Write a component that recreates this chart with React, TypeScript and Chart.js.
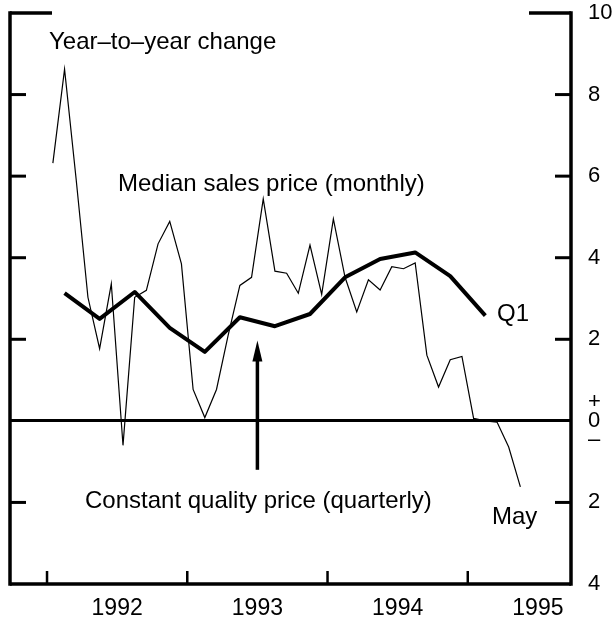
import React, { useEffect, useRef } from 'react';
import { Chart, registerables } from 'chart.js';

Chart.register(...registerables);

// ---- data ----
const firstYear = 1992;
// Monthly year-to-year change in median sales price, Jan 1992 .. May 1995
const monthlyChange = [
  6.32, 8.62, 5.9, 3.03, 1.77, 3.36, -0.6, 3.03, 3.2, 4.34, 4.89, 3.85,
  0.77, 0.08, 0.77, 2.1, 3.32, 3.52, 5.44, 3.67, 3.62, 3.13, 4.31, 3.1,
  4.95, 3.52, 2.67, 3.46, 3.21, 3.78, 3.73, 3.87, 1.61, 0.83, 1.5, 1.58,
  0.06, 0.0, -0.03, -0.64, -1.62,
];
// Quarterly constant quality price change, 1992Q1 .. 1995Q1
const quarterlyChange = [3.13, 2.5, 3.16, 2.28, 1.69, 2.54, 2.32, 2.62, 3.52, 3.97, 4.13, 3.55, 2.58];
const yearLabels = ['1992', '1993', '1994', '1995'];
const yTickValues = [-4, -2, 0, 2, 4, 6, 8, 10];
const innerTickValues = [8, 6, 4, 2, -2];
const xRange = [1991.736, 1995.736];
const yRange = [-4, 10];
const arrowX = 1993.5;
const arrowFrom = -1.2;
const arrowTo = 1.97;

const FONT = "'Liberation Sans', Arial, Helvetica, sans-serif";

const monthlyPoints = monthlyChange.map((v, i) => ({ x: firstYear + (i + 0.5) / 12, y: v }));
const quarterlyPoints = quarterlyChange.map((v, i) => ({ x: firstYear + (i + 0.5) / 4, y: v }));

const framePlugin = {
  id: 'frame',
  afterDraw(chart: any) {
    const ctx = chart.ctx;
    const ca = chart.chartArea;
    const xs = chart.scales.x;
    const ys = chart.scales.y;
    const line = (x1: number, y1: number, x2: number, y2: number) => {
      ctx.beginPath();
      ctx.moveTo(x1, y1);
      ctx.lineTo(x2, y2);
      ctx.stroke();
    };
    ctx.save();
    ctx.strokeStyle = '#000';
    ctx.fillStyle = '#000';
    ctx.lineCap = 'butt';
    ctx.lineWidth = 3.5;
    const yTop = ys.getPixelForValue(10);
    const yBot = ys.getPixelForValue(-4);
    // vertical axes
    line(ca.left, yTop - 1.75, ca.left, yBot + 1.75);
    line(ca.right, yTop - 1.75, ca.right, yBot + 1.75);
    // bottom axis
    line(ca.left, yBot, ca.right, yBot);
    // top brackets
    line(ca.left, yTop, ca.left + 42, yTop);
    line(ca.right - 42, yTop, ca.right, yTop);
    // inner y ticks
    ctx.lineWidth = 3;
    innerTickValues.forEach((v) => {
      const y = ys.getPixelForValue(v);
      line(ca.left, y, ca.left + 16, y);
      line(ca.right - 16, y, ca.right, y);
    });
    // x ticks at year boundaries
    ctx.lineWidth = 2.5;
    yearLabels.forEach((yl) => {
      const x = xs.getPixelForValue(Number(yl));
      line(x, yBot, x, yBot - 13);
    });
    // arrow
    const ax = xs.getPixelForValue(arrowX);
    const a0 = ys.getPixelForValue(arrowFrom);
    const a1 = ys.getPixelForValue(arrowTo);
    ctx.lineWidth = 3.5;
    line(ax, a0, ax, a1 + 12);
    ctx.beginPath();
    ctx.moveTo(ax, a1);
    ctx.lineTo(ax - 5, a1 + 21);
    ctx.lineTo(ax + 5, a1 + 21);
    ctx.closePath();
    ctx.fill();
    // annotations
    ctx.font = `24px ${FONT}`;
    ctx.textAlign = 'left';
    ctx.textBaseline = 'alphabetic';
    ctx.fillText('Year\u2013to\u2013year change', 49, 49);
    ctx.fillText('Median sales price (monthly)', 118, 191);
    ctx.fillText('Constant quality price (quarterly)', 85, 508);
    ctx.fillText('Q1', 497, 321);
    ctx.fillText('May', 492, 524);
    ctx.restore();
  },
};

export default function App() {
  const ref = useRef<HTMLCanvasElement>(null);
  useEffect(() => {
    if (!ref.current) return;
    const chart = new Chart(ref.current, {
      type: 'line',
      data: {
        datasets: [
          {
            data: monthlyPoints,
            borderColor: '#000',
            borderWidth: 1.2,
            pointRadius: 0,
            tension: 0,
            fill: false,
          },
          {
            data: quarterlyPoints,
            borderColor: '#000',
            borderWidth: 4,
            pointRadius: 0,
            tension: 0,
            fill: false,
            borderJoinStyle: 'round',
            borderCapStyle: 'butt',
          },
        ],
      },
      options: {
        responsive: false,
        animation: false,
        devicePixelRatio: 1,
        layout: { padding: { left: 10, top: 13, right: 0, bottom: 0 } },
        plugins: { legend: { display: false }, tooltip: { enabled: false } },
        scales: {
          x: {
            type: 'linear',
            position: 'bottom',
            min: xRange[0],
            max: xRange[1],
            afterBuildTicks: (s: any) => {
              s.ticks = yearLabels.map((y) => ({ value: Number(y) + 0.5 }));
            },
            afterFit: (s: any) => {
              s.height = 35;
              s.paddingLeft = 0;
              s.paddingRight = 0;
              s.paddingTop = 0;
              s.paddingBottom = 0;
            },
            ticks: {
              callback: (v: any) => String(Math.floor(Number(v))),
              font: { family: FONT, size: 23 },
              color: '#000',
              padding: 11,
              maxRotation: 0,
              autoSkip: false,
            },
            grid: { display: false, drawTicks: false },
            border: { display: false },
          },
          y: {
            type: 'linear',
            position: 'right',
            min: yRange[0],
            max: yRange[1],
            afterBuildTicks: (s: any) => {
              s.ticks = yTickValues.map((v) => ({ value: v }));
            },
            afterFit: (s: any) => {
              s.width = 44;
              s.paddingTop = 0;
              s.paddingBottom = 0;
              s.paddingLeft = 0;
              s.paddingRight = 0;
            },
            ticks: {
              callback: (v: any) => (Number(v) === 0 ? ['+', '0', '\u2013'] : String(Math.abs(Number(v)))),
              font: { family: FONT, size: 22, lineHeight: 0.86 },
              color: '#000',
              padding: 17,
              autoSkip: false,
            },
            grid: {
              drawTicks: false,
              color: (c: any) => (c.tick && c.tick.value === 0 ? '#000' : 'rgba(0,0,0,0)'),
              lineWidth: 3,
            },
            border: { display: false },
          },
        },
      },
      plugins: [framePlugin],
    } as any);
    return () => chart.destroy();
  }, []);
  return (
    <div style={{ position: 'fixed', left: 0, top: 0, width: 615, height: 619, background: '#fff' }}>
      <canvas ref={ref} width={615} height={619} style={{ display: 'block', width: 615, height: 619 }} />
    </div>
  );
}
